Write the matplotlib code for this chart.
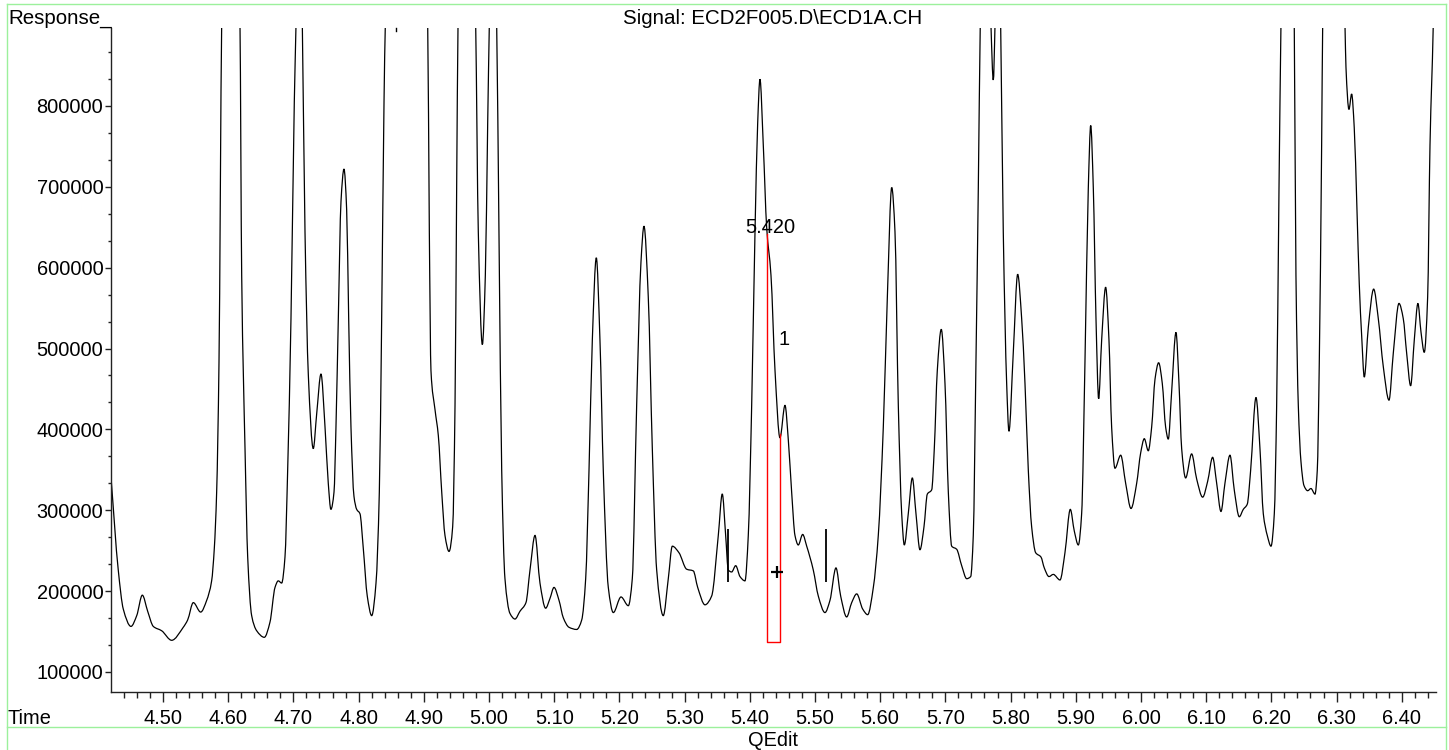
import numpy as np
import matplotlib
matplotlib.use('Agg')
import matplotlib.pyplot as plt
from matplotlib.lines import Line2D
from matplotlib.path import Path
from matplotlib.patches import PathPatch
from matplotlib.ticker import MultipleLocator, AutoMinorLocator

plt.rcParams['font.family'] = ['Liberation Sans', 'DejaVu Sans']

# ---------------- data ----------------
time_min = [
    4.4202, 4.4314, 4.4391, 4.4509, 4.4597, 4.4683, 4.4765, 4.4851, 4.4980, 4.5133,
    4.5311, 4.5378, 4.5465, 4.5578, 4.5670, 4.5746, 4.5787, 4.5823, 4.5859, 4.5900,
    4.6040, 4.6181, 4.6207, 4.6258, 4.6299, 4.6360, 4.6437, 4.6554, 4.6641, 4.6718,
    4.6768, 4.6820, 4.6871, 4.6912, 4.6963, 4.7014, 4.7040, 4.7090, 4.7137, 4.7178,
    4.7229, 4.7305, 4.7357, 4.7423, 4.7485, 4.7535, 4.7575, 4.7623, 4.7653, 4.7689,
    4.7730, 4.7776, 4.7817, 4.7848, 4.7883, 4.7929, 4.7971, 4.8021, 4.8072, 4.8133,
    4.8201, 4.8267, 4.8318, 4.8354, 4.8390, 4.8410, 4.8730, 4.9060, 4.9085, 4.9110,
    4.9172, 4.9223, 4.9275, 4.9325, 4.9387, 4.9443, 4.9479, 4.9504, 4.9525, 4.9660,
    4.9796, 4.9836, 4.9898, 4.9944, 4.9980, 5.0005, 5.0060, 5.0118, 5.0153, 5.0195,
    5.0245, 5.0322, 5.0399, 5.0475, 5.0567, 5.0629, 5.0706, 5.0782, 5.0869, 5.0936,
    5.0997, 5.1074, 5.1140, 5.1227, 5.1345, 5.1422, 5.1483, 5.1534, 5.1585, 5.1646,
    5.1702, 5.1753, 5.1830, 5.1907, 5.2025, 5.2137, 5.2198, 5.2265, 5.2331, 5.2377,
    5.2443, 5.2505, 5.2572, 5.2673, 5.2750, 5.2812, 5.2914, 5.3032, 5.3134, 5.3201,
    5.3313, 5.3415, 5.3517, 5.3578, 5.3630, 5.3670, 5.3722, 5.3784, 5.3850, 5.3926,
    5.3977, 5.4029, 5.4080, 5.4121, 5.4156, 5.4207, 5.4259, 5.4325, 5.4387, 5.4463,
    5.4540, 5.4591, 5.4642, 5.4693, 5.4744, 5.4811, 5.4873, 5.4974, 5.5051, 5.5153,
    5.5230, 5.5322, 5.5394, 5.5486, 5.5563, 5.5640, 5.5732, 5.5808, 5.5895, 5.5971,
    5.6048, 5.6110, 5.6177, 5.6227, 5.6278, 5.6330, 5.6370, 5.6431, 5.6493, 5.6549,
    5.6610, 5.6672, 5.6723, 5.6790, 5.6830, 5.6876, 5.6937, 5.6994, 5.7045, 5.7097,
    5.7173, 5.7250, 5.7327, 5.7388, 5.7428, 5.7469, 5.7505, 5.7535, 5.7620, 5.7699,
    5.7735, 5.7761, 5.7800, 5.7848, 5.7888, 5.7940, 5.7975, 5.8041, 5.8109, 5.8170,
    5.8221, 5.8272, 5.8323, 5.8385, 5.8466, 5.8517, 5.8589, 5.8655, 5.8758, 5.8834,
    5.8916, 5.8977, 5.9039, 5.9090, 5.9141, 5.9192, 5.9229, 5.9269, 5.9310, 5.9351,
    5.9397, 5.9458, 5.9509, 5.9550, 5.9601, 5.9689, 5.9765, 5.9847, 5.9934, 5.9995,
    6.0051, 6.0112, 6.0164, 6.0215, 6.0271, 6.0327, 6.0378, 6.0419, 6.0470, 6.0537,
    6.0583, 6.0624, 6.0685, 6.0777, 6.0854, 6.0946, 6.1023, 6.1099, 6.1161, 6.1227,
    6.1288, 6.1365, 6.1431, 6.1508, 6.1569, 6.1630, 6.1682, 6.1764, 6.1825, 6.1876,
    6.1937, 6.1994, 6.2045, 6.2081, 6.2117, 6.2147, 6.2250, 6.2351, 6.2377, 6.2413,
    6.2454, 6.2500, 6.2557, 6.2607, 6.2669, 6.2704, 6.2735, 6.2771, 6.2787, 6.2960,
    6.3129, 6.3144, 6.3190, 6.3231, 6.3271, 6.3313, 6.3348, 6.3385, 6.3425, 6.3487,
    6.3569, 6.3640, 6.3716, 6.3804, 6.3870, 6.3957, 6.4023, 6.4075, 6.4136, 6.4192,
    6.4248, 6.4294, 6.4345, 6.4397, 6.4433, 6.4483, 6.4560,
]

response = [
    341400, 226000, 177800, 156400, 169700, 195000, 175100, 156400, 151000, 139200,
    155300, 164300, 185800, 174100, 188600, 212700, 252900, 322600, 483500, 900000,
    1400000, 900000, 590700, 376300, 242200, 169700, 151000, 142900, 161700, 204600,
    212700, 210000, 242200, 349400, 537000, 805300, 900000, 1100000, 900000, 644400,
    467400, 376300, 419100, 468500, 403000, 333400, 301100, 322600, 403000, 537000,
    681800, 722000, 671400, 537000, 403000, 317300, 301100, 295800, 252900, 193900,
    169700, 210000, 322600, 537000, 805300, 900000, 1500000, 900000, 644400, 472700,
    424500, 392300, 322600, 268900, 249100, 279700, 429800, 698000, 900000, 1400000,
    900000, 644400, 505000, 590700, 778400, 900000, 1100000, 900000, 644400, 349400,
    215400, 172400, 165500, 175100, 185800, 226100, 268900, 210000, 178900, 191100,
    204600, 188600, 167000, 155300, 152600, 164300, 215400, 349400, 510600, 612200,
    510600, 349400, 204600, 173500, 192800, 182000, 215400, 429800, 606800, 651300,
    563800, 376300, 226100, 169700, 215400, 255600, 247500, 227100, 225000, 204600,
    183100, 193900, 268900, 320100, 268900, 226100, 223700, 231500, 218000, 212700,
    268900, 429800, 644400, 778400, 833000, 751700, 649700, 590700, 472700, 389600,
    429800, 386900, 322600, 268900, 257100, 270100, 255600, 226100, 193900, 173500,
    188600, 228700, 193900, 168100, 185800, 196600, 177800, 170900, 204600, 268900,
    403000, 563800, 699100, 644400, 429800, 295800, 257100, 295800, 340000, 295800,
    251200, 279700, 320000, 325300, 376300, 472700, 523700, 456700, 322600, 255600,
    251800, 231500, 215400, 218000, 268900, 483500, 698000, 900000, 1200000, 900000,
    832100, 900000, 1100000, 900000, 644400, 456700, 397700, 494300, 591800, 537000,
    456700, 349400, 279700, 247500, 242200, 228700, 218000, 220700, 213800, 247500,
    301100, 274400, 257100, 295800, 483500, 698000, 775800, 698000, 537000, 437900,
    510600, 575800, 510600, 403000, 352000, 368100, 333400, 302200, 333400, 370800,
    388500, 373600, 403000, 462000, 482400, 456700, 403000, 388000, 446000, 520000,
    456700, 376300, 340000, 369700, 338700, 316200, 335900, 365500, 333400, 298500,
    333400, 368100, 325000, 292000, 301100, 307500, 349400, 439500, 376300, 295800,
    268900, 255600, 295800, 429800, 698000, 900000, 1400000, 900000, 590700, 429800,
    360100, 330600, 324200, 326900, 320000, 349400, 483500, 751700, 900000, 1400000,
    900000, 848200, 795700, 814800, 773100, 671200, 580000, 515700, 464700, 526400,
    573500, 537000, 478000, 436200, 494300, 555800, 537000, 494300, 454000, 510600,
    555800, 521000, 495300, 563800, 751700, 900000, 1300000,
]

y_ticks = [100000, 200000, 300000, 400000, 500000, 600000, 700000, 800000]
x_ticks = [4.50, 4.60, 4.70, 4.80, 4.90, 5.00, 5.10, 5.20, 5.30, 5.40,
           5.50, 5.60, 5.70, 5.80, 5.90, 6.00, 6.10, 6.20, 6.30, 6.40]

title_text = "Signal: ECD2F005.D\\ECD1A.CH"
peak_label = "5.420"
peak_number = "1"
integration_start = 5.4268
integration_end = 5.4459
integration_baseline = 137100
marker_times = [5.3661, 5.5169]
marker_low = 211700
marker_high = 276800
cursor_time = 5.4412
cursor_response = 224000
top_mark_time = 4.8574


def smooth_trace_path(xs, ys):
    """Path through every data point, joined by shape-preserving cubic segments."""
    x = np.asarray(xs, float)
    y = np.asarray(ys, float)
    h = np.diff(x)
    d = np.diff(y) / h
    m = np.zeros_like(y)
    m[0], m[-1] = d[0], d[-1]
    for k in range(1, len(x) - 1):
        if d[k - 1] * d[k] <= 0:
            m[k] = 0.0
        else:
            w1 = 2 * h[k] + h[k - 1]
            w2 = h[k] + 2 * h[k - 1]
            m[k] = (w1 + w2) / (w1 / d[k - 1] + w2 / d[k])
    verts = [(x[0], y[0])]
    codes = [Path.MOVETO]
    for k in range(len(x) - 1):
        verts += [(x[k] + h[k] / 3, y[k] + m[k] * h[k] / 3),
                  (x[k + 1] - h[k] / 3, y[k + 1] - m[k + 1] * h[k] / 3),
                  (x[k + 1], y[k + 1])]
        codes += [Path.CURVE4] * 3
    return Path(verts, codes)


# ---------------- figure ----------------
W, H = 1449, 750
fig = plt.figure(figsize=(W / 100, H / 100), dpi=100)
fig.patch.set_facecolor('white')

ax = fig.add_axes([111 / W, 1 - 692 / H, (1436 - 111) / W, (692 - 28) / H])
ax.set_facecolor('white')
ax.add_patch(PathPatch(smooth_trace_path(time_min, response), facecolor='none',
                       edgecolor='black', lw=0.9))
ax.set_xlim(4.42025, 6.4525)
ax.set_ylim(75266, 896400)

for s in ['top', 'right']:
    ax.spines[s].set_visible(False)
for s in ['left', 'bottom']:
    ax.spines[s].set_color('#222222')
    ax.spines[s].set_linewidth(1.0)

fs = 14.4
ax.set_yticks(y_ticks)
ax.set_yticklabels([str(v) for v in y_ticks])
ax.yaxis.set_minor_locator(AutoMinorLocator(3))
ax.set_xticks(x_ticks)
ax.set_xticklabels([f"{t:.2f}" for t in x_ticks])
ax.xaxis.set_minor_locator(MultipleLocator(0.02))
ax.tick_params(axis='x', which='major', length=7, width=1, pad=5, labelsize=fs, color='#222222')
ax.tick_params(axis='x', which='minor', length=4, width=1, color='#222222')
ax.tick_params(axis='y', which='major', length=4, width=1, pad=1.5, labelsize=fs, color='#222222')
ax.tick_params(axis='y', which='minor', length=2, width=1, color='#222222')

# integration region
y_left = np.interp(integration_start, time_min, response)
y_right = np.interp(integration_end, time_min, response)
ax.plot([integration_start, integration_start, integration_end, integration_end],
        [y_left, integration_baseline, integration_baseline, y_right],
        color='red', lw=1.0)

# peak start/end markers and cursor
ax.vlines(marker_times, marker_low, marker_high, color='black', lw=1.3)
ax.plot([cursor_time], [cursor_response], marker='+', ms=8, mew=1.6, color='black')
ax.plot([top_mark_time, top_mark_time], [892700, 896400], color='black', lw=1.0, clip_on=False)

ax.text(5.4310, 650300, peak_label, ha='center', va='center', fontsize=fs)
ax.text(5.4520, 511800, peak_number, ha='center', va='center', fontsize=fs)

# figure-level texts
fig.text(8 / W, 1 - 23.5 / H, "Response_", ha='left', va='baseline', fontsize=14.8)
fig.text(773 / W, 1 - 23.5 / H, title_text, ha='center', va='baseline', fontsize=14.8)
fig.text(8 / W, 1 - 723.5 / H, "Time", ha='left', va='baseline', fontsize=fs)
fig.text(773 / W, 1 - 746.5 / H, "QEdit", ha='center', va='baseline', fontsize=fs)

# light green frame
green = '#9cf09c'
def fline(x0, y0, x1, y1):
    fig.add_artist(Line2D([x0 / W, x1 / W], [1 - y0 / H, 1 - y1 / H],
                          transform=fig.transFigure, color=green, lw=1.0))
fline(7, 3.5, 1446, 3.5)
fline(7, 3.5, 7, 750)
fline(1446, 3.5, 1446, 750)
fline(7, 727, 1446, 727)

fig.savefig('out.png', dpi=100, facecolor='white')
